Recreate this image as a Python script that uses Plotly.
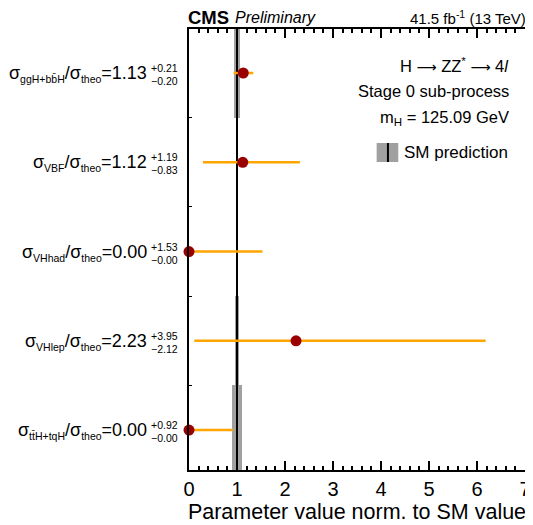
import plotly.graph_objects as go

# ---- data ----
processes = ["ggH+b\u0062\u0304H", "VBF", "VHhad", "VHlep", "t\u0074\u0304H+tqH"]
row_pos = [5, 4, 3, 2, 1]
mu_values = [1.13, 1.12, 0.00, 2.23, 0.00]
err_up = [0.21, 1.19, 1.53, 3.95, 0.92]
err_down = [0.20, 0.83, 0.00, 2.12, 0.00]
sm_value = 1.0
sm_unc = [0.07, 0.03, 0.03, 0.04, 0.11]
x_ticks = [0, 1, 2, 3, 4, 5, 6, 7]

# page body has an 8px margin -> compensate
OFF = 8
W, H = 533 - OFF, 525 - OFF
# plot-area edges in reference (window) pixels
L, R, T, B = 189, 531, 29, 470
FONT = "Liberation Sans, Arial, sans-serif"


def px(xp):
    return (xp - L) / (R - L)


def py(yp):
    return (B - yp) / (B - T)


def small(t, s=10.5):
    return f'<span style="font-size:{s}px">{t}</span>'


fig = go.Figure()

# SM uncertainty bands
fig.add_trace(go.Bar(
    orientation="h", y=row_pos, x=[2 * u for u in sm_unc],
    base=[sm_value - u for u in sm_unc], width=1.0,
    marker=dict(color="#a0a0a0", line=dict(width=0)),
    showlegend=False, hoverinfo="skip"))

# SM line
fig.add_trace(go.Scatter(
    x=[sm_value, sm_value], y=[0.0, 6.0], mode="lines",
    line=dict(color="black", width=2), showlegend=False, hoverinfo="skip"))

# measurements
fig.add_trace(go.Scatter(
    x=mu_values, y=row_pos, mode="markers",
    marker=dict(color="#9b0000", size=11, line=dict(width=0)),
    error_x=dict(type="data", symmetric=False, array=err_up, arrayminus=err_down,
                 color="#ffa500", thickness=2.5, width=0),
    showlegend=False, cliponaxis=False))

ann = []
for name, y, v, up, dn in zip(processes, row_pos, mu_values, err_up, err_down):
    ann.append(dict(
        xref="paper", yref="y", x=0, y=y, xshift=-40, yshift=-1,
        xanchor="right", yanchor="middle", showarrow=False,
        text=f"\u03c3<sub>{small(name)}</sub>/\u03c3<sub>{small('theo')}</sub>={v:.2f}",
        font=dict(family=FONT, size=18, color="black")))
    ann.append(dict(
        xref="paper", yref="y", x=0, y=y, xshift=-40, yshift=5,
        xanchor="left", yanchor="middle", showarrow=False,
        text=f"+{up:.2f}", font=dict(family=FONT, size=10.5, color="black")))
    ann.append(dict(
        xref="paper", yref="y", x=0, y=y, xshift=-40, yshift=-8,
        xanchor="left", yanchor="middle", showarrow=False,
        text=f"\u2212{dn:.2f}", font=dict(family=FONT, size=10.5, color="black")))

# header
ann.append(dict(xref="paper", yref="paper", x=px(186), y=py(18), xanchor="left", yanchor="middle",
                showarrow=False, text="<b>CMS</b>", font=dict(family=FONT, size=18.5, color="black")))
ann.append(dict(xref="paper", yref="paper", x=px(234), y=py(18), xanchor="left", yanchor="middle",
                showarrow=False, text="<i>Preliminary</i>", font=dict(family=FONT, size=16, color="black")))
ann.append(dict(xref="paper", yref="paper", x=1.0, y=py(17.5), xanchor="right", yanchor="middle", xshift=3,
                showarrow=False, text="41.5 fb<sup>-1</sup> (13 TeV)", font=dict(family=FONT, size=15, color="black")))

# legend-like texts
arrow = '<span style="font-family:DejaVu Sans;font-size:14px">\u27f6</span>'
for txt, yy in [(f"H {arrow} ZZ<sup>*</sup> {arrow} 4<i>l</i>", 65),
                ("Stage 0 sub-process", 91),
                ("m<sub>H</sub> = 125.09 GeV", 118)]:
    ann.append(dict(xref="paper", yref="paper", x=px(517), y=py(yy), xanchor="right", yanchor="middle",
                    showarrow=False, text=txt, font=dict(family=FONT, size=16.5, color="black")))
ann.append(dict(xref="paper", yref="paper", x=px(406), y=py(152), xanchor="left", yanchor="middle",
                showarrow=False, text="SM prediction", font=dict(family=FONT, size=17, color="black")))

shapes = [
    dict(type="rect", xref="paper", yref="paper", x0=px(380), x1=px(402), y0=py(162), y1=py(143),
         fillcolor="#a0a0a0", line=dict(width=0)),
    dict(type="line", xref="paper", yref="paper", x0=px(391.5), x1=px(391.5), y0=py(162), y1=py(143),
         line=dict(color="black", width=2)),
]

fig.update_layout(
    width=W, height=H,
    margin=dict(l=L - OFF, r=533 - R, t=T - OFF, b=525 - B, pad=0),
    paper_bgcolor="white", plot_bgcolor="white",
    font=dict(family=FONT, color="black"),
    annotations=ann, shapes=shapes, showlegend=False, bargap=0,
    xaxis=dict(range=[0, 7], tickvals=x_ticks, ticks="inside", ticklen=9, tickwidth=1.5,
               tickcolor="black", showline=True, linewidth=2, linecolor="black", mirror="allticks",
               showgrid=False, zeroline=False, tickfont=dict(family=FONT, size=20, color="black"),
               ticklabeloverflow="allow",
               minor=dict(dtick=0.2, ticks="inside", ticklen=4, tickwidth=1.5, tickcolor="black", showgrid=False),
               title=dict(text="Parameter value norm. to SM value", font=dict(family=FONT, size=21.5, color="black"),
                          standoff=2)),
    yaxis=dict(range=[0.553, 5.493], tickvals=[1.5, 2.5, 3.5, 4.5], showticklabels=False,
               ticks="inside", ticklen=3, tickcolor="black", showline=True, linewidth=2,
               linecolor="black", mirror=True, showgrid=False, zeroline=False),
)

fig.write_html("out.html")
